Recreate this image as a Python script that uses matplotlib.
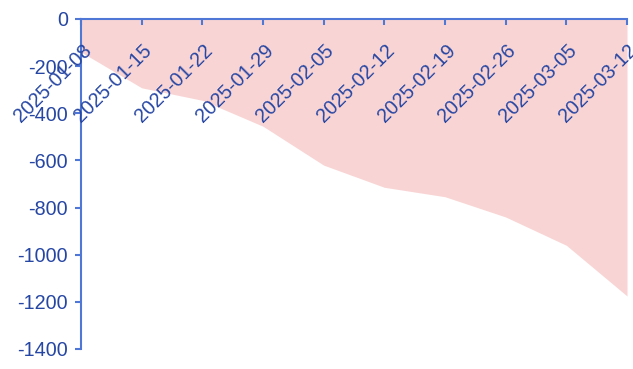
import matplotlib
matplotlib.use("Agg")
import matplotlib.pyplot as plt
import pandas as pd

# weekly dates and (negative) values
dates = ["2025-01-08", "2025-01-15", "2025-01-22", "2025-01-29", "2025-02-05",
         "2025-02-12", "2025-02-19", "2025-02-26", "2025-03-05", "2025-03-12"]
values = [-140, -292, -345, -455, -620, -714, -754, -840, -960, -1175]
yticks = [0, -200, -400, -600, -800, -1000, -1200, -1400]

AXIS = "#4f78d6"
TEXT = "#2646a3"
FILL = "#f9d4d4"

plt.rcParams["font.family"] = ["Liberation Sans", "DejaVu Sans"]

x = pd.to_datetime(dates)

fig = plt.figure(figsize=(6.33, 3.69), dpi=100)
ax = fig.add_axes([81 / 633, 1 - 349 / 369, (627 - 81) / 633, 330 / 369])

ax.fill_between(x, values, 0, color=FILL, linewidth=0)

ax.set_xlim(x[0], x[-1])
ax.set_ylim(-1400, 0)

for s in ["bottom", "right"]:
    ax.spines[s].set_visible(False)
for s in ["top", "left"]:
    ax.spines[s].set_color(AXIS)
    ax.spines[s].set_linewidth(1.5)

ax.xaxis.set_ticks_position("top")
ax.set_xticks(x)
ax.tick_params(axis="x", direction="in", length=4.3, width=1.5, color=AXIS,
               labeltop=False, labelbottom=False)
for xi, lab in zip(x, dates):
    ax.annotate(lab, xy=(xi, 0), xytext=(8, -23.5), textcoords="offset points",
                rotation=45, ha="right", va="baseline", rotation_mode="anchor",
                color=TEXT, fontsize=14.2, annotation_clip=False)

ax.set_yticks(yticks)
ax.set_yticklabels([str(v) for v in yticks])
ax.tick_params(axis="y", direction="out", length=4.3, width=1.5, color=AXIS,
               labelcolor=TEXT, labelsize=14.2, pad=5)

fig.savefig("out.png", dpi=100)
